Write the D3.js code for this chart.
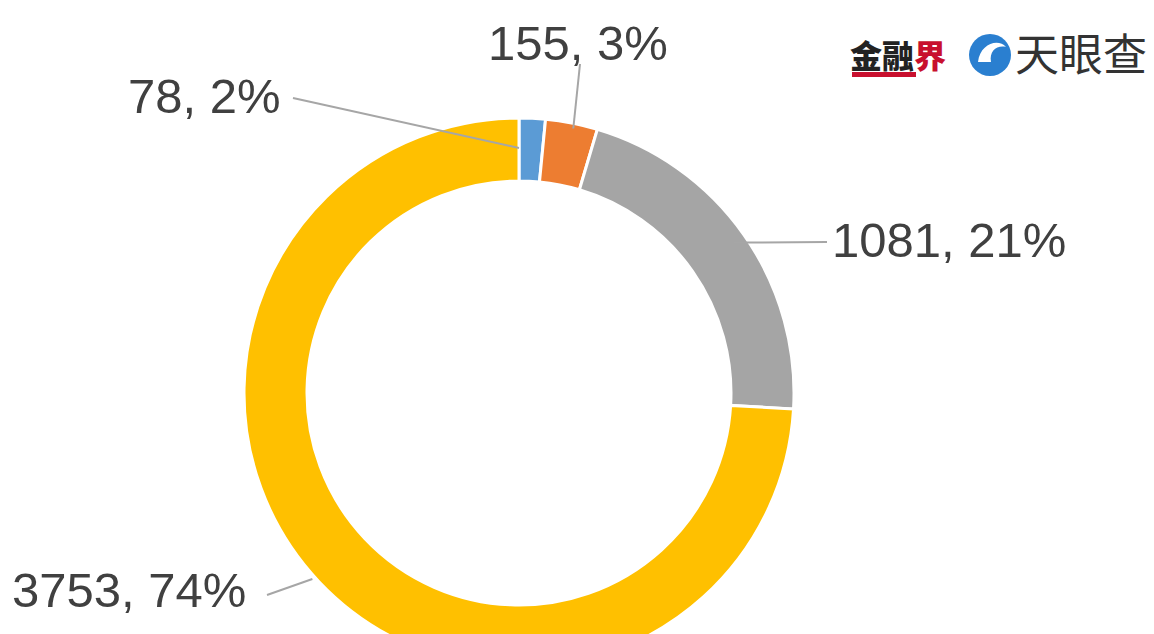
<!DOCTYPE html>
<html><head><meta charset="utf-8">
<script src="https://cdn.jsdelivr.net/npm/d3@7"></script>
<style>html,body{margin:0;padding:0;background:#fff;}svg{display:block;}</style>
</head><body>
<svg id="c" width="1154" height="634"></svg>
<script>
const categories = ["A", "B", "C", "D"];
const values = [78, 155, 1081, 3753];
const percentLabels = ["2%", "3%", "21%", "74%"];
const colors = ["#5B9BD5", "#ED7D31", "#A5A5A5", "#FFC000"];

// label layout (positions only)
const labelLayout = [
  {tx: 128, ty: 113, lx: 293, ly: 98, frac: 0.0, r: 245},
  {tx: 488, ty: 60, lx: 580, ly: 64, frac: 0.55, r: 270},
  {tx: 832, ty: 257, lx: 827, ly: 242, frac: 0.5, r: 262},
  {tx: 12, ty: 607, lx: 267, ly: 595, frac: 0.505, r: 278}
];

const svg = d3.select("#c");
const cx = 519, cy = 393, R = 275, r = 212;
const g = svg.append("g").attr("transform", `translate(${cx},${cy})`);

const pie = d3.pie().sort(null).value(d => d);
const arcs = pie(values);
const arc = d3.arc().innerRadius(r).outerRadius(R);

g.selectAll("path.slice").data(arcs).enter().append("path")
  .attr("class", "slice")
  .attr("d", arc)
  .attr("fill", (d, i) => colors[i])
  .attr("stroke", "#fff")
  .attr("stroke-width", 3);

arcs.forEach((d, i) => {
  const L = labelLayout[i];
  const a = d.startAngle + (d.endAngle - d.startAngle) * L.frac;
  const ex = cx + Math.sin(a) * L.r, ey = cy - Math.cos(a) * L.r;
  svg.append("line")
    .attr("x1", L.lx).attr("y1", L.ly).attr("x2", ex).attr("y2", ey)
    .attr("stroke", "#a6a6a6").attr("stroke-width", 2);
});

arcs.forEach((d, i) => {
  const L = labelLayout[i];
  svg.append("text")
    .attr("x", L.tx).attr("y", L.ty)
    .attr("font-family", "'Liberation Sans', Arial, sans-serif")
    .attr("font-size", 49)
    .attr("fill", "#404040")
    .text(values[i] + ", " + percentLabels[i]);
});

// logos
const lg = svg.append("g");
lg.append("text").attr("x", 850).attr("y", 68)
  .attr("font-family", "'Noto Sans CJK SC', sans-serif").attr("font-weight", 900)
  .attr("font-size", 32).attr("fill", "#222").text("金融");
lg.append("text").attr("x", 914).attr("y", 68)
  .attr("font-family", "'Noto Sans CJK SC', sans-serif").attr("font-weight", 900)
  .attr("font-size", 32).attr("fill", "#c8102e").text("界");
lg.append("rect").attr("x", 852).attr("y", 72).attr("width", 64).attr("height", 5).attr("fill", "#c8102e");
lg.append("circle").attr("cx", 990).attr("cy", 55).attr("r", 21).attr("fill", "#2a7fd0");
lg.append("path").attr("d", "M978,62 C980,44 998,38 1006,47 C997,45 989,51 991,62 Z").attr("fill", "#fff");
lg.append("text").attr("x", 1015).attr("y", 71)
  .attr("font-family", "'Noto Sans CJK SC', sans-serif")
  .attr("font-size", 44).attr("fill", "#333").text("天眼查");
</script>
</body></html>
